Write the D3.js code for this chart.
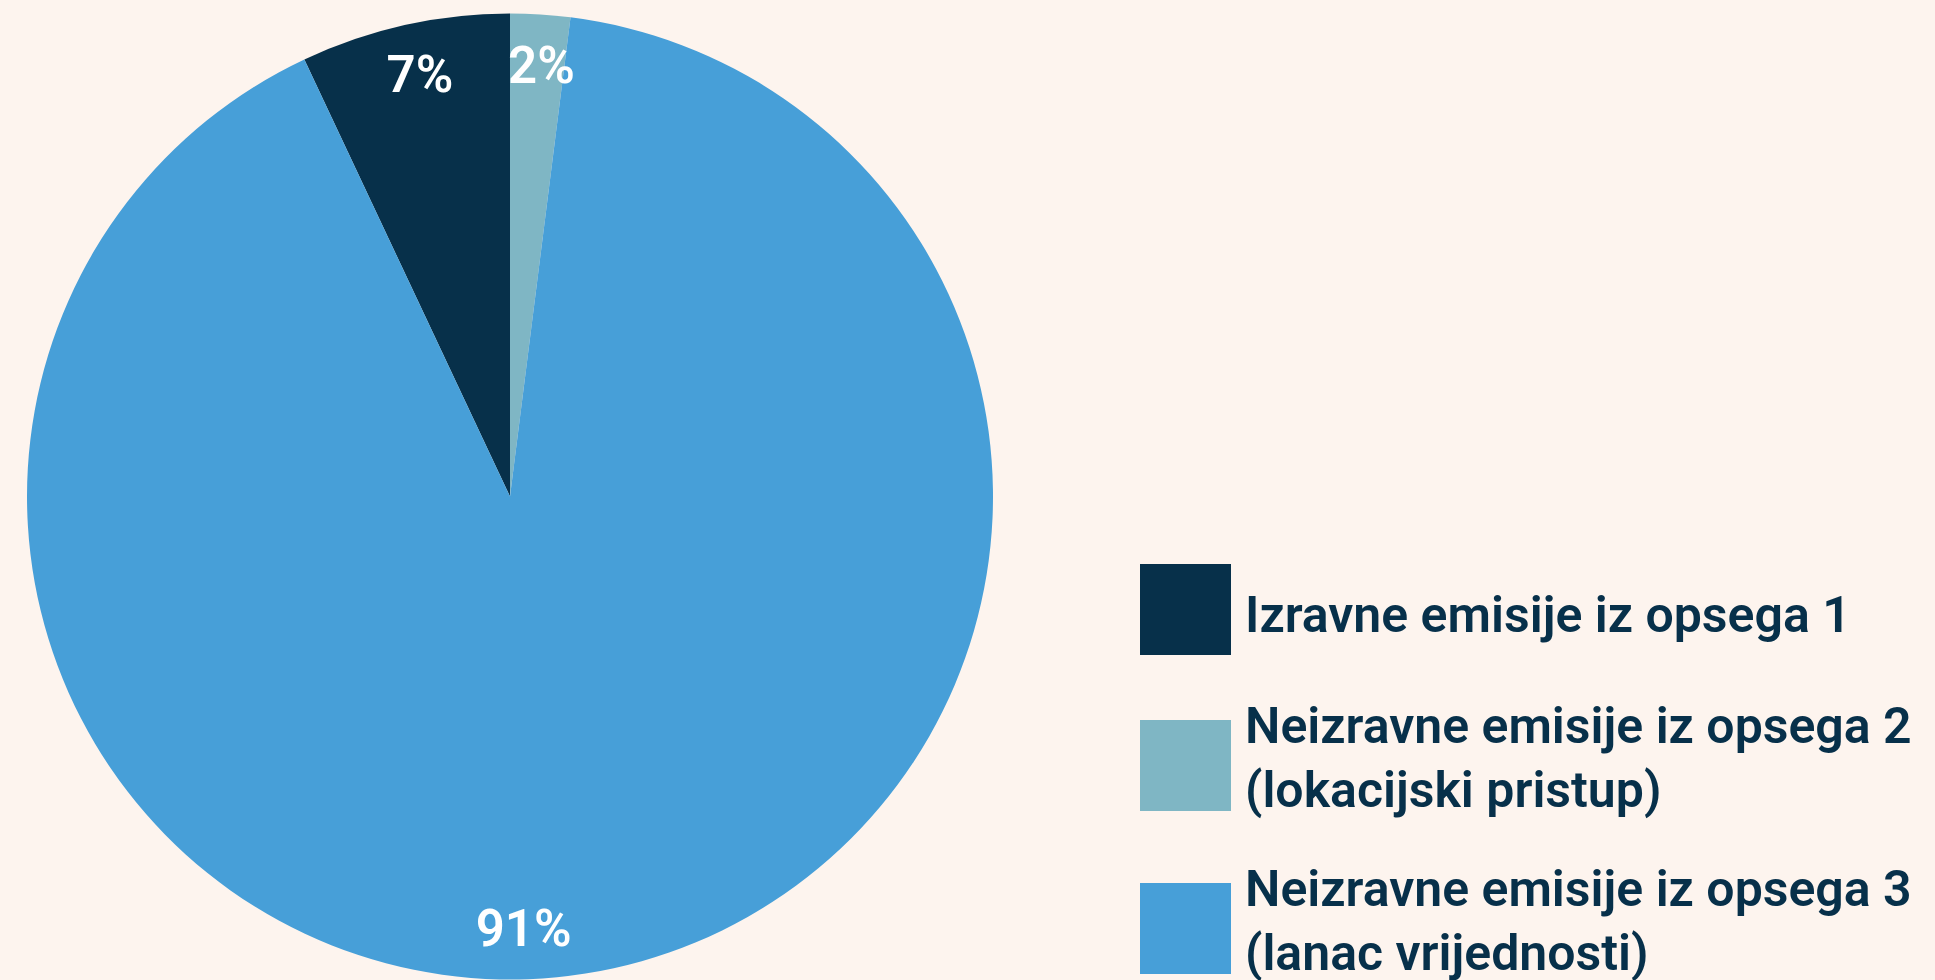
<!DOCTYPE html>
<html>
<head>
<meta charset="utf-8">
<script src="https://cdn.jsdelivr.net/npm/d3@7"></script>
<style>
	html, body { margin: 0; padding: 0; background: #fdf4ee; overflow: hidden; }
	svg text { font-family: Roboto, "Noto Sans", sans-serif; }
</style>
</head>
<body>
<div id="chart-box"></div>
<script>
// DATA
const categories = [
	["Izravne emisije iz opsega 1"],
	["Neizravne emisije iz opsega 2", "(lokacijski pristup)"],
	["Neizravne emisije iz opsega 3", "(lanac vrijednosti)"]
];
const values = [7, 2, 91];
const labels = ["7%", "2%", "91%"];
const colors = ["#07304a", "#7fb6c4", "#479fd8"];


// SVG DIMENSIONS
const width = 1935;
const height = 980;
const svg = d3.select("#chart-box")
	.append("svg")
	.attr("width", width)
	.attr("height", height);

svg.append("rect")
	.attr("width", width)
	.attr("height", height)
	.attr("fill", "#fdf4ee");


// PIE: first slice ends at 12 o'clock
const total = d3.sum(values);
const start = -(values[0] / total) * 2 * Math.PI;
const pie = d3.pie()
	.sort(null)
	.startAngle(start)
	.endAngle(start + 2 * Math.PI);

const radius = 483;
const cx = 510, cy = 496.5;
const arc = d3.arc().innerRadius(0).outerRadius(radius);
const labelR = radius * 0.895;

const g = svg.append("g")
	.attr("transform", `translate(${cx},${cy})`);

const slices = pie(values);

g.selectAll("path")
	.data(slices)
	.enter()
	.append("path")
		.attr("d", arc)
		.attr("fill", (d, i) => colors[i]);

// labels: big slice label goes near the bottom
const labelAngle = d => (d.endAngle - d.startAngle > Math.PI)
	? Math.PI * 0.99
	: (d.startAngle + d.endAngle) / 2 + 0.01;

g.selectAll("text.pct")
	.data(slices)
	.enter()
	.append("text")
		.attr("class", "pct")
		.attr("x", d => labelR * Math.sin(labelAngle(d)))
		.attr("y", d => -labelR * Math.cos(labelAngle(d)))
		.attr("dy", "0.35em")
		.attr("text-anchor", "middle")
		.attr("fill", "#ffffff")
		.attr("font-size", 51)
		.attr("font-weight", 600)
		.text((d, i) => labels[i]);


// LEGEND
const legend = svg.append("g")
	.attr("transform", "translate(1140,0)");
const legendY = d3.scaleOrdinal()
	.domain(d3.range(categories.length))
	.range([564, 720, 883]);
const lineH = 64;
const firstBaseline = [632, 743, 906];

categories.forEach((lines, i) => {
	legend.append("rect")
		.attr("x", 0)
		.attr("y", legendY(i))
		.attr("width", 91)
		.attr("height", 91)
		.attr("fill", colors[i]);
	const t = legend.append("text")
		.attr("x", 105)
		.attr("y", firstBaseline[i])
		.attr("fill", "#07304a")
		.attr("font-size", 50)
		.attr("font-weight", 600);
	lines.forEach((line, j) => {
		t.append("tspan")
			.attr("x", 105)
			.attr("dy", j === 0 ? 0 : lineH)
			.text(line);
	});
});
</script>
</body>
</html>
